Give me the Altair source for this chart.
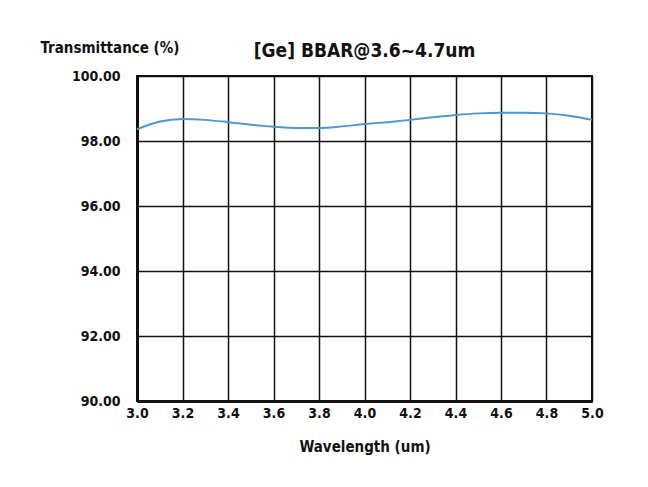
import altair as alt
import pandas as pd

wavelength = [3.0, 3.1, 3.2, 3.3, 3.4, 3.5, 3.6, 3.7, 3.8, 3.9, 4.0,
              4.1, 4.2, 4.3, 4.4, 4.5, 4.6, 4.7, 4.8, 4.9, 5.0]
transmittance = [98.36, 98.60, 98.68, 98.65, 98.58, 98.50, 98.44, 98.40, 98.40, 98.45, 98.52,
                 98.58, 98.65, 98.73, 98.80, 98.85, 98.87, 98.87, 98.85, 98.78, 98.65]
x_ticks = [3.0, 3.2, 3.4, 3.6, 3.8, 4.0, 4.2, 4.4, 4.6, 4.8, 5.0]
y_ticks = [90, 92, 94, 96, 98, 100]

df = pd.DataFrame({"w": wavelength, "t": transmittance})
FONT = "DejaVu Sans Condensed"

chart = alt.Chart(df).mark_line(color="#4f97d3", strokeWidth=2, interpolate="monotone").encode(
    x=alt.X("w:Q", scale=alt.Scale(domain=[3.0, 5.0], nice=False),
            axis=alt.Axis(values=x_ticks, format=".1f", title="Wavelength (um)",
                          ticks=False, labelPadding=5, titlePadding=19,
                          labelFlush=False, labelOverlap=False,
                          labelFontSize=14, titleFontSize=15)),
    y=alt.Y("t:Q", scale=alt.Scale(domain=[90, 100], nice=False, zero=False),
            axis=alt.Axis(values=y_ticks, format=".2f", title="Transmittance (%)",
                          ticks=False, labelPadding=17, titleAngle=0,
                          labelFlush=False, labelOverlap=False,
                          titleAlign="left", titleBaseline="bottom",
                          titleX=-97, titleY=-21,
                          labelFontSize=14, titleFontSize=15)),
).properties(
    width=455, height=325,
    title=alt.TitleParams("[Ge] BBAR@3.6~4.7um", fontSize=19, font=FONT,
                          fontWeight="bold", color="#111", offset=16, dy=37),
    padding={"left": 129, "top": 68, "right": 48, "bottom": 60},
    autosize="none",
).configure_axis(
    labelFont=FONT, titleFont=FONT, labelFontWeight="bold", titleFontWeight="bold",
    labelColor="#111", titleColor="#111",
    domainColor="#111", domainWidth=3,
    gridColor="#111", gridWidth=1.5, gridOpacity=1,
).configure_view(stroke="#111", strokeWidth=2)

chart.save("out.html", embed_options={"renderer": "svg", "actions": False})
